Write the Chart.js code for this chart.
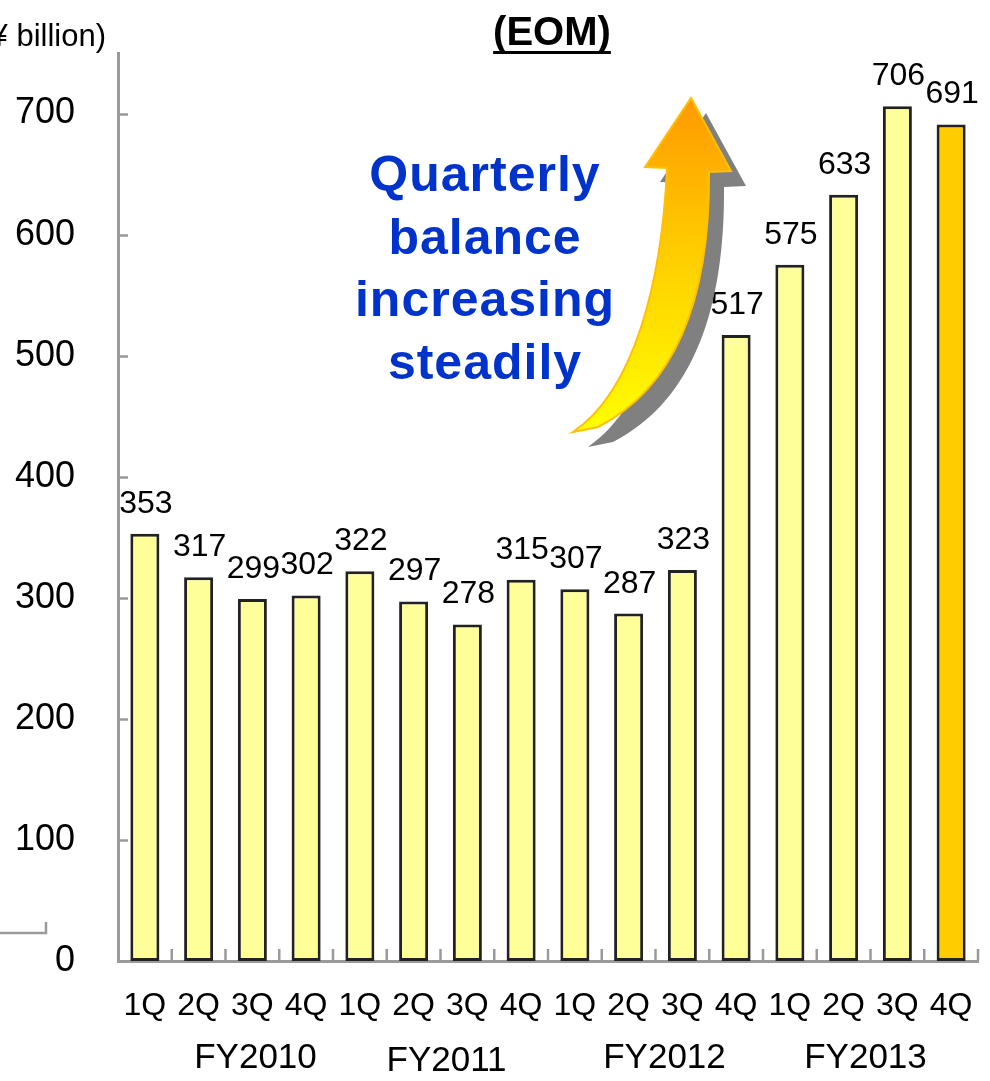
<!DOCTYPE html>
<html>
<head>
<meta charset="utf-8">
<script src="https://cdn.jsdelivr.net/npm/chart.js@4/dist/chart.umd.min.js"></script>
<style>
  html, body { margin: 0; padding: 0; background: #fff; }
  canvas { display: block; }
</style>
</head>
<body>
<canvas id="chart" width="990" height="1081"></canvas>
<script>
// chart data
const quarters = ['1Q', '2Q', '3Q', '4Q', '1Q', '2Q', '3Q', '4Q',
                  '1Q', '2Q', '3Q', '4Q', '1Q', '2Q', '3Q', '4Q'];
const fiscalYears = ['FY2010', 'FY2011', 'FY2012', 'FY2013'];
const balance = [353, 317, 299, 302, 322, 297, 278, 315,
                 307, 287, 323, 517, 575, 633, 706, 691];
const yTicks = [0, 100, 200, 300, 400, 500, 600, 700];
const unitLabel = '(¥ billion)';
const titleText = '(EOM)';
const noteLines = ['Quarterly', 'balance', 'increasing', 'steadily'];

const FONT = "'Liberation Sans', Arial, sans-serif";
const AXIS_GREY = '#9a9a9a';

const barColors = balance.map((v, i) => i === balance.length - 1 ? '#FFCC00' : '#FFFF99');

// value labels, small inward ticks, FY row, title, note and arrow
const extras = {
  id: 'extras',
  afterDraw(chart) {
    const ctx = chart.ctx;
    const x = chart.scales.x, y = chart.scales.y;
    const area = chart.chartArea;

    ctx.save();
    // tick marks: y ticks point right into the plot, x ticks point up
    ctx.strokeStyle = AXIS_GREY;
    ctx.lineWidth = 2.5;
    ctx.beginPath();
    y.ticks.forEach(t => {
      const py = Math.round(y.getPixelForValue(t.value)) + 0.5;
      if (t.value === 0) return;
      ctx.moveTo(area.left, py);
      ctx.lineTo(area.left + 10, py);
    });
    for (let i = 1; i <= quarters.length; i++) {
      const px = i < quarters.length
        ? (x.getPixelForValue(i - 1) + x.getPixelForValue(i)) / 2
        : area.right;
      ctx.moveTo(px, area.bottom);
      ctx.lineTo(px, area.bottom - 12);
    }
    // stray bracket at the lower left of the original slide
    ctx.moveTo(0, 933);
    ctx.lineTo(46, 933);
    ctx.lineTo(46, 922);
    ctx.stroke();

    // value labels
    const meta = chart.getDatasetMeta(0);
    ctx.fillStyle = '#000';
    ctx.font = '32px ' + FONT;
    ctx.textAlign = 'center';
    ctx.textBaseline = 'alphabetic';
    meta.data.forEach((bar, i) => {
      ctx.fillText(String(balance[i]), bar.x + 1, bar.y - 21);
    });

    // fiscal year row under the quarter labels
    const fyShift = [30, 6, 9, -5];
    const fyBase = [1068, 1071, 1068, 1068];
    ctx.font = '35px ' + FONT;
    fiscalYears.forEach((fy, g) => {
      const cx = (x.getPixelForValue(g * 4) + x.getPixelForValue(g * 4 + 3)) / 2;
      ctx.fillText(fy, cx + fyShift[g], fyBase[g]);
    });

    // unit label, cut at the left edge like the source
    ctx.textAlign = 'right';
    ctx.font = '31px ' + FONT;
    ctx.fillText(unitLabel, 106, 46);

    // underlined title
    ctx.textAlign = 'center';
    ctx.font = 'bold 40px ' + FONT;
    ctx.fillText(titleText, 552, 45);
    const tw = ctx.measureText(titleText).width;
    ctx.fillRect(552 - tw / 2, 51, tw, 3);

    // curved arrow with its grey shadow
    const arrow = (dx, dy) => {
      ctx.beginPath();
      ctx.moveTo(691 + dx, 98 + dy);
      ctx.lineTo(731 + dx, 171 + dy);
      ctx.lineTo(709 + dx, 172 + dy);
      ctx.bezierCurveTo(710 + dx, 290 + dy, 680 + dx, 385 + dy, 598 + dx, 427 + dy);
      ctx.lineTo(573 + dx, 432 + dy);
      ctx.bezierCurveTo(635 + dx, 390 + dy, 662 + dx, 280 + dy, 667 + dx, 168 + dy);
      ctx.lineTo(645 + dx, 167 + dy);
      ctx.closePath();
    };
    arrow(15, 15);
    ctx.fillStyle = '#808080';
    ctx.fill();
    arrow(0, 0);
    const grad = ctx.createLinearGradient(0, 98, 0, 432);
    grad.addColorStop(0, '#FF9900');
    grad.addColorStop(0.45, '#FFCC00');
    grad.addColorStop(1, '#FFFF00');
    ctx.fillStyle = grad;
    ctx.fill();
    ctx.strokeStyle = '#FFC000';
    ctx.lineWidth = 2;
    ctx.stroke();

    // blue note
    ctx.fillStyle = '#0033CC';
    ctx.font = 'bold 50px ' + FONT;
    ctx.letterSpacing = '1px';
    noteLines.forEach((line, i) => {
      ctx.fillText(line, 485, 191 + i * 62.5);
    });
    ctx.restore();
  }
};

new Chart(document.getElementById('chart'), {
  type: 'bar',
  data: {
    labels: quarters,
    datasets: [{
      data: balance,
      backgroundColor: barColors,
      borderColor: '#222',
      borderWidth: 3,
      borderSkipped: false,
      categoryPercentage: 1,
      barPercentage: 0.54
    }]
  },
  options: {
    responsive: false,
    animation: false,
    layout: { padding: { top: 53, right: 12, left: 0, bottom: 0 } },
    plugins: {
      legend: { display: false },
      tooltip: { enabled: false },
      title: { display: false }
    },
    scales: {
      x: {
        grid: { display: false, drawTicks: false },
        border: { display: true, color: AXIS_GREY, width: 3 },
        ticks: {
          color: '#000',
          font: { family: FONT, size: 32 },
          padding: 26,
          maxRotation: 0,
          autoSkip: false
        },
        afterFit(scale) {
          scale.height = 120;
          scale.paddingLeft = 0;
          scale.paddingRight = 0;
        }
      },
      y: {
        min: 0,
        max: 750,
        grid: { display: false, drawTicks: false },
        border: { display: true, color: AXIS_GREY, width: 3 },
        ticks: {
          color: '#000',
          font: { family: FONT, size: 36 },
          padding: 43,
          autoSkip: false
        },
        afterBuildTicks(scale) {
          scale.ticks = yTicks.map(v => ({ value: v }));
        },
        afterFit(scale) {
          scale.width = 118;
          scale.paddingTop = 0;
          scale.paddingBottom = 0;
        }
      }
    }
  },
  plugins: [extras]
});
</script>
</body>
</html>
